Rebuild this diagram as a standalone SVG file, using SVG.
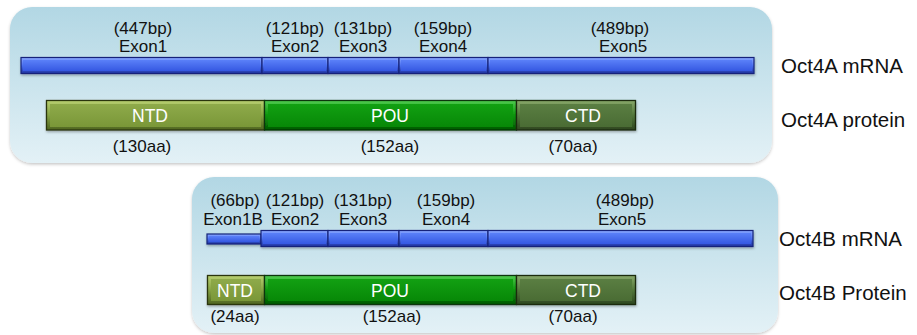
<svg xmlns="http://www.w3.org/2000/svg" width="917" height="335" viewBox="0 0 917 335">
<defs>
<linearGradient id="panelG" x1="0" y1="0" x2="0" y2="1">
<stop offset="0" stop-color="#b2d7e4"/>
<stop offset="1" stop-color="#e3f1f6"/>
</linearGradient>
<linearGradient id="mrnaO" x1="0" y1="0" x2="0" y2="1">
<stop offset="0" stop-color="#8aa8ff"/>
<stop offset="0.5" stop-color="#4a70f0"/>
<stop offset="1" stop-color="#1f34a0"/>
</linearGradient>
<linearGradient id="mrnaI" x1="0" y1="0" x2="0" y2="1">
<stop offset="0" stop-color="#5a80f8"/>
<stop offset="1" stop-color="#3558e2"/>
</linearGradient>
<linearGradient id="ntdO" x1="0" y1="0" x2="0" y2="1">
<stop offset="0" stop-color="#b8d070"/>
<stop offset="0.5" stop-color="#86a244"/>
<stop offset="1" stop-color="#4e6420"/>
</linearGradient>
<linearGradient id="ntdI" x1="0" y1="0" x2="0" y2="1">
<stop offset="0" stop-color="#8eaa4a"/>
<stop offset="1" stop-color="#7a9738"/>
</linearGradient>
<linearGradient id="pouO" x1="0" y1="0" x2="0" y2="1">
<stop offset="0" stop-color="#50cc50"/>
<stop offset="0.5" stop-color="#0c960c"/>
<stop offset="1" stop-color="#045804"/>
</linearGradient>
<linearGradient id="pouI" x1="0" y1="0" x2="0" y2="1">
<stop offset="0" stop-color="#12a012"/>
<stop offset="1" stop-color="#078807"/>
</linearGradient>
<linearGradient id="ctdO" x1="0" y1="0" x2="0" y2="1">
<stop offset="0" stop-color="#88a86a"/>
<stop offset="0.5" stop-color="#52763a"/>
<stop offset="1" stop-color="#2e4620"/>
</linearGradient>
<linearGradient id="ctdI" x1="0" y1="0" x2="0" y2="1">
<stop offset="0" stop-color="#5a7e42"/>
<stop offset="1" stop-color="#4a6c34"/>
</linearGradient>
<filter id="sh" x="-5%" y="-10%" width="110%" height="130%">
<feDropShadow dx="0" dy="1.5" stdDeviation="1.5" flood-color="#000" flood-opacity="0.22"/>
</filter>
<filter id="bs" x="-5%" y="-30%" width="110%" height="170%">
<feDropShadow dx="0.5" dy="1.5" stdDeviation="1" flood-color="#000" flood-opacity="0.3"/>
</filter>
</defs>
<style>
.panel{fill:url(#panelG);filter:url(#sh)}
.ex{fill:url(#mrnaO);stroke:#16237a;stroke-width:1.2}
.exi{fill:url(#mrnaI)}
.ntd{fill:url(#ntdO);stroke:#2a3610;stroke-width:1.3}
.ntdi{fill:url(#ntdI)}
.pou{fill:url(#pouO);stroke:#083608;stroke-width:1.3}
.poui{fill:url(#pouI)}
.ctd{fill:url(#ctdO);stroke:#1a2a10;stroke-width:1.3}
.ctdi{fill:url(#ctdI)}
.bar{filter:url(#bs)}
text{font-family:"Liberation Sans",Arial,sans-serif}
.lb{font-size:17px;fill:#111;text-anchor:middle}
.wt{font-size:17.5px;fill:#fff;text-anchor:middle}
.side{font-size:20.5px;fill:#111}
</style>
<g id="panelA">
<rect class="panel" x="10" y="7" width="762" height="156" rx="22"/>
</g>
<g id="panelB">
<rect class="panel" x="192" y="177" width="586" height="156" rx="22"/>
</g>
<g id="oct4a-mrna">
<g class="bar">
<rect class="ex" x="21" y="57.5" width="241" height="16"/>
<rect class="ex" x="262" y="57.5" width="66" height="16"/>
<rect class="ex" x="328" y="57.5" width="71" height="16"/>
<rect class="ex" x="399" y="57.5" width="89" height="16"/>
<rect class="ex" x="488" y="57.5" width="266" height="16"/>
</g>
<rect class="exi" x="23" y="60" width="237" height="11"/>
<rect class="exi" x="264" y="60" width="62" height="11"/>
<rect class="exi" x="330" y="60" width="67" height="11"/>
<rect class="exi" x="401" y="60" width="85" height="11"/>
<rect class="exi" x="490" y="60" width="262" height="11"/>
<text class="lb" x="143" y="34">(447bp)</text>
<text class="lb" x="143" y="52">Exon1</text>
<text class="lb" x="295" y="34">(121bp)</text>
<text class="lb" x="295" y="52">Exon2</text>
<text class="lb" x="363" y="34">(131bp)</text>
<text class="lb" x="363" y="52">Exon3</text>
<text class="lb" x="443" y="34">(159bp)</text>
<text class="lb" x="443" y="52">Exon4</text>
<text class="lb" x="620" y="34">(489bp)</text>
<text class="lb" x="623" y="52">Exon5</text>
<text class="side" x="781" y="73">Oct4A mRNA</text>
</g>
<g id="oct4a-protein">
<g class="bar">
<rect class="ntd" x="46.5" y="100.5" width="218" height="29.5"/>
<rect class="pou" x="264.5" y="100.5" width="252" height="29.5"/>
<rect class="ctd" x="516.5" y="100.5" width="119" height="29.5"/>
</g>
<rect class="ntdi" x="50" y="104" width="211" height="23"/>
<rect class="poui" x="268" y="104" width="245" height="23"/>
<rect class="ctdi" x="520" y="104" width="112" height="23"/>
<text class="wt" x="150" y="122">NTD</text>
<text class="wt" x="390" y="122">POU</text>
<text class="wt" x="583" y="122">CTD</text>
<text class="lb" x="142" y="152">(130aa)</text>
<text class="lb" x="390" y="152">(152aa)</text>
<text class="lb" x="573" y="152">(70aa)</text>
<text class="side" x="781" y="127">Oct4A protein</text>
</g>
<g id="oct4b-mrna">
<g class="bar">
<rect class="ex" x="207" y="234" width="54" height="10"/>
<rect class="ex" x="261" y="230.5" width="67" height="16"/>
<rect class="ex" x="328" y="230.5" width="71" height="16"/>
<rect class="ex" x="399" y="230.5" width="89" height="16"/>
<rect class="ex" x="488" y="230.5" width="265" height="16"/>
</g>
<rect class="exi" x="209" y="236" width="50" height="6"/>
<rect class="exi" x="263" y="233" width="63" height="11"/>
<rect class="exi" x="330" y="233" width="67" height="11"/>
<rect class="exi" x="401" y="233" width="85" height="11"/>
<rect class="exi" x="490" y="233" width="261" height="11"/>
<text class="lb" x="235" y="206">(66bp)</text>
<text class="lb" x="233" y="225">Exon1B</text>
<text class="lb" x="295" y="206">(121bp)</text>
<text class="lb" x="295" y="225">Exon2</text>
<text class="lb" x="363" y="206">(131bp)</text>
<text class="lb" x="363" y="225">Exon3</text>
<text class="lb" x="446" y="206">(159bp)</text>
<text class="lb" x="446" y="225">Exon4</text>
<text class="lb" x="625" y="206">(489bp)</text>
<text class="lb" x="622" y="225">Exon5</text>
<text class="side" x="779" y="246">Oct4B mRNA</text>
</g>
<g id="oct4b-protein">
<g class="bar">
<rect class="ntd" x="207.5" y="275.5" width="57" height="29"/>
<rect class="pou" x="264.5" y="275.5" width="252" height="29"/>
<rect class="ctd" x="516.5" y="275.5" width="119" height="29"/>
</g>
<rect class="ntdi" x="211" y="279" width="50" height="22"/>
<rect class="poui" x="268" y="279" width="245" height="22"/>
<rect class="ctdi" x="520" y="279" width="112" height="22"/>
<text class="wt" x="235" y="297">NTD</text>
<text class="wt" x="390" y="297">POU</text>
<text class="wt" x="583" y="297">CTD</text>
<text class="lb" x="235" y="322">(24aa)</text>
<text class="lb" x="392" y="322">(152aa)</text>
<text class="lb" x="573" y="322">(70aa)</text>
<text class="side" x="779" y="300">Oct4B Protein</text>
</g>
<g id="connectors"/>
</svg>
